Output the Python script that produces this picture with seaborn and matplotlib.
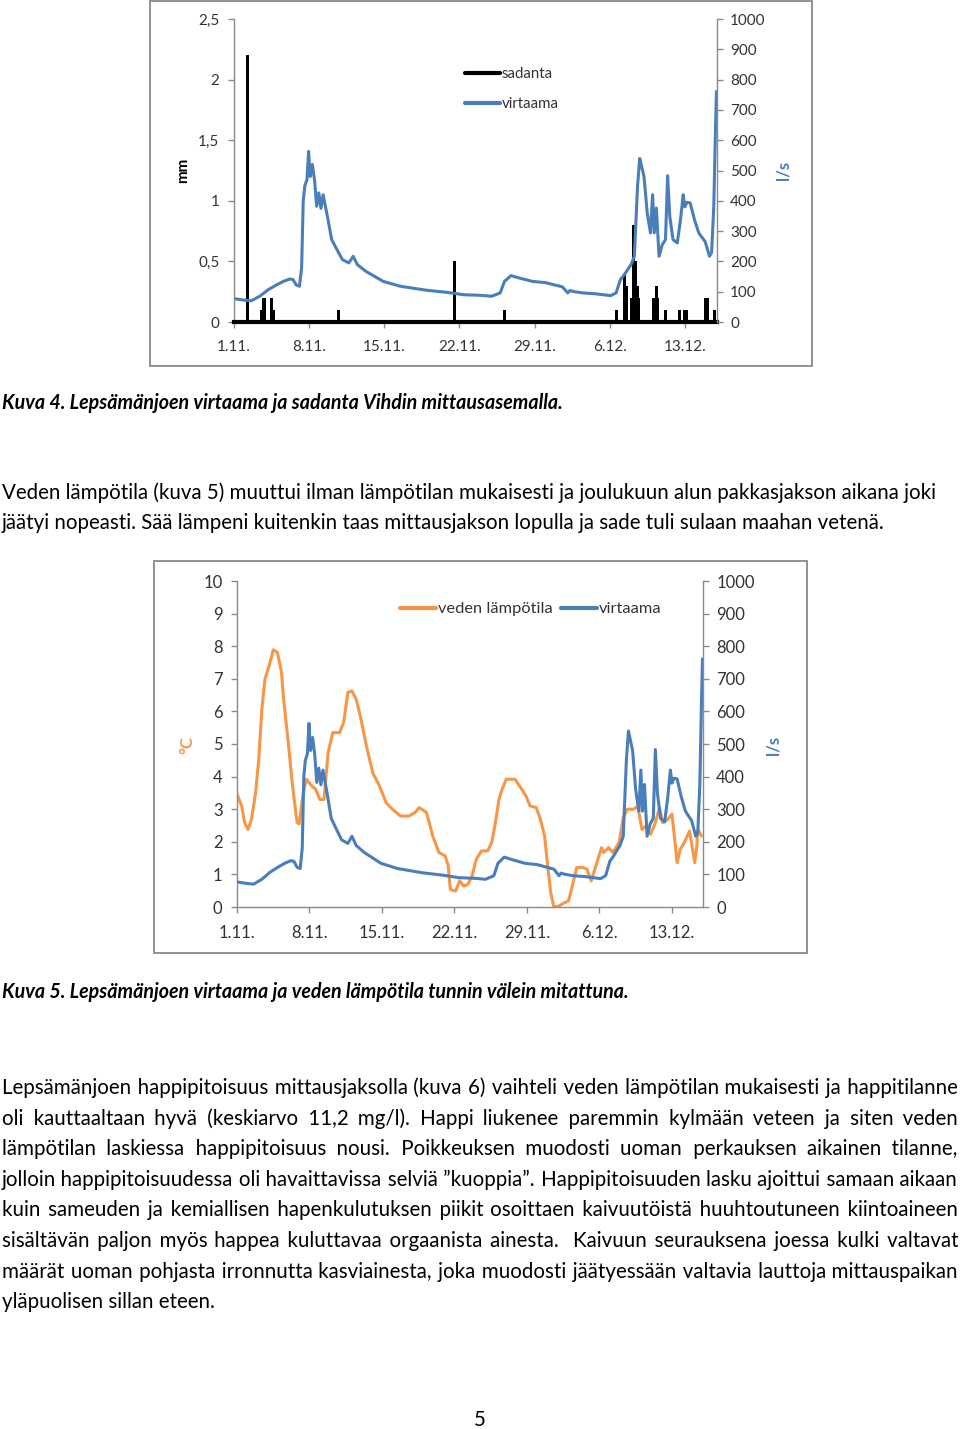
import matplotlib
matplotlib.use('Agg')
import matplotlib.pyplot as plt
import seaborn as sns
import numpy as np
from matplotlib.patches import Rectangle
from matplotlib.lines import Line2D

sns.set_theme(style='white')
plt.rcParams['font.family'] = ['Lato', 'DejaVu Sans']

# ---------------- data ----------------
date_labels = ["1.11.", "8.11.", "15.11.", "22.11.", "29.11.", "6.12.", "13.12."]

# virtaama (l/s), days since 1.11.
flow_day = [0, 1.0, 1.6, 2.4, 3.2, 4.0, 4.6, 5.2, 5.5, 5.8, 6.1, 6.3, 6.45, 6.6, 6.8, 6.95,
            7.1, 7.3, 7.5, 7.7, 7.9, 8.1, 8.3, 8.7, 9.1, 9.5, 10.1, 10.7, 11.1, 11.5, 12.3,
            13.9, 15.5, 17.9, 19.8, 21.4, 23.0, 24.0, 24.8, 25.2, 25.8, 26.6, 27.8, 29.0,
            29.8, 30.6, 31.1, 31.3, 31.7, 32.5, 33.7, 35.1, 35.6, 36.0, 36.4, 37.0, 37.3,
            37.6, 37.8, 38.0, 38.2, 38.5, 38.8, 39.0, 39.15, 39.35, 39.6, 39.9, 40.2, 40.4,
            40.6, 40.9, 41.3, 41.6, 41.85, 42.0, 42.2, 42.5, 42.9, 43.3, 43.9, 44.3, 44.5,
            44.7, 44.85, 44.95]
flow_ls = [77, 72, 70, 85, 107, 123, 134, 142, 140, 122, 118, 180, 400, 450, 470, 563,
           480, 520, 470, 382, 426, 375, 420, 349, 272, 245, 206, 195, 217, 189, 167,
           134, 118, 105, 98, 90, 88, 85, 96, 134, 153, 145, 134, 130,
           123, 116, 96, 104, 100, 96, 93, 87, 96, 140, 158, 190, 217,
           450, 540, 510, 480, 360, 294, 420, 294, 376, 217, 255, 272, 483,
           349, 272, 261, 338, 420, 380, 395, 393, 338, 294, 265, 217, 230,
           382, 624, 761]

# veden lämpötila (°C)
temp_day = [0, 0.45, 0.74, 1.06, 1.4, 1.8, 2.1, 2.4, 2.7, 3.1, 3.5, 3.9, 4.3, 4.5, 4.95,
            5.36, 5.8, 6.0, 6.4, 6.7, 7.2, 7.6, 8.0, 8.4, 8.6, 8.8, 9.25, 9.9, 10.3, 10.7,
            11.1, 11.5, 11.9, 12.5, 13.1, 13.75, 14.4, 15.0, 15.8, 16.6, 17.2, 17.6, 18.3,
            18.9, 19.5, 20.1, 20.4, 20.6, 21.1, 21.5, 21.9, 22.3, 22.7, 23.1, 23.6, 24.2,
            24.6, 24.9, 25.3, 25.6, 26.0, 26.85, 27.5, 27.9, 28.3, 28.9, 29.3, 29.7, 30.0,
            30.3, 30.6, 31.1, 31.6, 32.0, 32.3, 32.8, 33.4, 33.8, 34.2, 34.4, 34.8, 35.2,
            35.4, 35.9, 36.3, 36.9, 37.3, 37.7, 38.3, 38.7, 39.1, 39.5, 39.95, 40.4, 40.8,
            41.1, 41.6, 42.0, 42.3, 42.5, 42.8, 43.2, 43.7, 44.0, 44.2, 44.4, 44.5, 44.85]
temp_c = [3.46, 3.1, 2.59, 2.38, 2.69, 3.51, 4.53, 6.07, 6.99, 7.4, 7.89, 7.81, 7.2, 6.38, 5.05,
          3.72, 2.59, 2.55, 3.5, 3.92, 3.72, 3.61, 3.3, 3.3, 4.02, 4.74, 5.35, 5.35, 5.66, 6.58,
          6.63, 6.38, 5.87, 4.94, 4.12, 3.72, 3.2, 3.0, 2.79, 2.79, 2.9, 3.05, 2.9,
          2.18, 1.67, 1.57, 1.26, 0.54, 0.49, 0.8, 0.64, 0.7, 0.95, 1.46, 1.72, 1.72,
          1.98, 2.49, 3.3, 3.61, 3.92, 3.92, 3.61, 3.41, 3.1, 3.05, 2.69, 2.18, 1.26,
          0.44, 0.0, 0.03, 0.13, 0.18, 0.54, 1.21, 1.21, 1.16, 0.8, 1.0, 1.41, 1.82,
          1.67, 1.82, 1.67, 1.98, 2.74, 3.0, 3.0, 3.1, 2.38, 2.49, 2.23, 2.59, 3.05,
          2.59, 2.69, 2.85, 1.98, 1.36, 1.77, 1.98, 2.33, 1.77, 1.36, 1.87, 2.38, 2.18]

# sadanta (mm)
rain_day = [1.27, 2.58, 2.72, 2.86, 3.5, 3.65, 9.76, 20.55, 25.2, 35.6, 36.4, 36.55, 37.0,
            37.2, 37.4, 37.55, 37.7, 39.1, 39.35, 39.5, 40.2, 41.5, 42.0, 42.15, 43.95,
            44.1, 44.8]
rain_mm = [2.2, 0.1, 0.2, 0.2, 0.2, 0.1, 0.1, 0.5, 0.1, 0.1, 0.4, 0.3, 0.2,
           0.8, 0.5, 0.3, 0.2, 0.2, 0.3, 0.2, 0.1, 0.1, 0.1, 0.1, 0.2,
           0.2, 0.1]

mm_ticks = [0, 0.5, 1, 1.5, 2, 2.5]
c_ticks = list(range(0, 11))
ls_ticks = list(range(0, 1001, 100))

# ---------------- layout ----------------
W, H = 960, 1429
fig = plt.figure(figsize=(W / 100, H / 100), dpi=100)
fig.patch.set_facecolor('white')

def fx(px):
    return px / W

def fy(py):
    return 1 - py / H

BLUE = '#4a7ebb'
ORANGE = '#f79646'
GRID = '#8a8a8a'
TXT = '#333333'

def frame(x0, y0, x1, y1):
    fig.patches.append(Rectangle((fx(x0), fy(y1)), fx(x1) - fx(x0), fy(y0) - fy(y1),
                                 transform=fig.transFigure, fill=False,
                                 edgecolor=GRID, lw=1.3))

def fmt_comma(v):
    s = ('%g' % v)
    return s.replace('.', ',')

def style_axes(ax, axr, size, bottom_color, bottom_lw):
    for s in ['top', 'right']:
        ax.spines[s].set_visible(False)
    for s in ['top', 'left', 'bottom']:
        axr.spines[s].set_visible(False)
    ax.spines['left'].set_color(GRID)
    ax.spines['left'].set_linewidth(1)
    axr.spines['right'].set_color(GRID)
    axr.spines['right'].set_linewidth(1)
    ax.spines['bottom'].set_color(bottom_color)
    ax.spines['bottom'].set_linewidth(bottom_lw)
    ax.tick_params(axis='y', left=True, direction='out', length=4.5, width=1, color=GRID,
                   labelsize=size, labelcolor=TXT, pad=6)
    axr.tick_params(axis='y', right=True, direction='out', length=4.5, width=1, color=GRID,
                    labelsize=size, labelcolor=TXT, pad=5)
    ax.tick_params(axis='x', bottom=True, direction='out', length=4, width=1, color=GRID,
                   labelsize=size, labelcolor=TXT, pad=9)
    ax.set_xlim(0, 45)
    ax.set_xticks([7 * i for i in range(len(date_labels))])
    ax.set_xticklabels(date_labels)
    ax.set_facecolor('none')
    axr.set_facecolor('none')
    ax.grid(False)
    axr.grid(False)

# ---------------- chart 1 ----------------
frame(150, 1, 812, 366)
ax1 = fig.add_axes([fx(234), fy(322), fx(717) - fx(234), fy(19) - fy(322)])
ax1r = ax1.twinx()
ax1.bar(rain_day, rain_mm, width=0.28, color='black', linewidth=0, zorder=3)
sns.lineplot(x=flow_day, y=flow_ls, ax=ax1r, color=BLUE, lw=2.2)
ax1.set_ylim(0, 2.5)
ax1r.set_ylim(0, 1000)
ax1.set_yticks(mm_ticks)
ax1.set_yticklabels([fmt_comma(v) for v in mm_ticks])
ax1r.set_yticks(ls_ticks)
style_axes(ax1, ax1r, 11, 'black', 3)
ax1.set_xlabel('')
ax1r.set_ylabel('')
fig.text(fx(183), fy(170), 'mm', rotation=90, ha='center', va='center',
         fontsize=11, fontweight='bold', color='black')
fig.text(fx(783), fy(170), 'l/s', rotation=90, ha='center', va='center',
         fontsize=12, fontweight='bold', color=BLUE)
fig.legend(handles=[Line2D([], [], color='black', lw=3), Line2D([], [], color=BLUE, lw=3)],
           labels=['sadanta', 'virtaama'], loc='upper left',
           bbox_to_anchor=(fx(465), fy(67)), frameon=False, fontsize=10.8,
           handlelength=2.3, handletextpad=0.15, labelspacing=1.1,
           borderaxespad=0, borderpad=0, labelcolor=TXT)

# ---------------- chart 2 ----------------
frame(154, 561, 807, 953)
ax2 = fig.add_axes([fx(237), fy(907), fx(703) - fx(237), fy(581) - fy(907)])
ax2r = ax2.twinx()
sns.lineplot(x=temp_day, y=temp_c, ax=ax2, color=ORANGE, lw=2.2)
sns.lineplot(x=flow_day, y=flow_ls, ax=ax2r, color=BLUE, lw=2.2)
ax2.set_ylim(0, 10)
ax2r.set_ylim(0, 1000)
ax2.set_yticks(c_ticks)
ax2r.set_yticks(ls_ticks)
style_axes(ax2, ax2r, 12, GRID, 1)
ax2.set_xlabel('')
ax2r.set_ylabel('')
fig.text(fx(187), fy(745), '°C', rotation=90, ha='center', va='center',
         fontsize=12, fontweight='bold', color=ORANGE)
fig.text(fx(773), fy(745), 'l/s', rotation=90, ha='center', va='center',
         fontsize=12, fontweight='bold', color=BLUE)
fig.legend(handles=[Line2D([], [], color=ORANGE, lw=3), Line2D([], [], color=BLUE, lw=3)],
           labels=['veden lämpötila', 'virtaama'], loc='upper left', ncol=2,
           bbox_to_anchor=(fx(400), fy(602)), frameon=False, fontsize=11.8,
           handlelength=2.2, handletextpad=0.12, columnspacing=0.5,
           borderaxespad=0, borderpad=0, labelcolor=TXT)

# ---------------- text ----------------
renderer = fig.canvas.get_renderer()

def text_width(s, size, **kw):
    t = fig.text(0, 0, s, fontsize=size, **kw)
    w = t.get_window_extent(renderer).width
    t.remove()
    return w

ref_line = ("Veden lämpötila (kuva 5) muuttui ilman lämpötilan mukaisesti ja joulukuun "
            "alun pakkasjakson aikana joki")
body_fs = 13 * 932 / text_width(ref_line, 13)
cap_kw = dict(fontweight='bold', fontstyle='italic')
cap1 = "Kuva 4. Lepsämänjoen virtaama ja sadanta Vihdin mittausasemalla."
cap_fs = 12 * 561 / text_width(cap1, 12, **cap_kw)

def put(s, x, y, size, **kw):
    fig.text(fx(x), fy(y), s, fontsize=size, ha='left', va='baseline', color='black', **kw)

HAIR = '\u200a'
hair_w = (text_width('a' + HAIR * 40 + 'a', body_fs) - text_width('aa', body_fs)) / 40

def justified(line, y, x0, x1, size):
    # one text object per line; word gaps are widened with hair spaces
    n_gaps = line.count(' ')
    extra = (x1 - x0) - text_width(line, size)
    k = extra / n_gaps / hair_w if hair_w > 0 else 0
    parts = line.split(' ')
    out = parts[0]
    for i, p in enumerate(parts[1:]):
        cnt = int(round(k * (i + 1)) - round(k * i))
        out += ' ' + HAIR * max(cnt, 0) + p
    put(out, x0, y, size)

put(cap1, 2, 409, cap_fs, **cap_kw)
put(ref_line, 2, 499, body_fs)
put("jäätyi nopeasti. Sää lämpeni kuitenkin taas mittausjakson lopulla ja sade tuli "
    "sulaan maahan vetenä.", 2, 529, body_fs)

put("Kuva 5. Lepsämänjoen virtaama ja veden lämpötila tunnin välein mitattuna.",
    2, 998, cap_fs, **cap_kw)

para = [
    "Lepsämänjoen happipitoisuus mittausjaksolla (kuva 6) vaihteli veden lämpötilan mukaisesti ja happitilanne",
    "oli kauttaaltaan hyvä (keskiarvo 11,2 mg/l). Happi liukenee paremmin kylmään veteen ja siten veden",
    "lämpötilan laskiessa happipitoisuus nousi. Poikkeuksen muodosti uoman perkauksen aikainen tilanne,",
    "jolloin happipitoisuudessa oli havaittavissa selviä ”kuoppia”. Happipitoisuuden lasku ajoittui samaan aikaan",
    "kuin sameuden ja kemiallisen hapenkulutuksen piikit osoittaen kaivuutöistä huuhtoutuneen kiintoaineen",
    "sisältävän paljon myös happea kuluttavaa orgaanista ainesta.  Kaivuun seurauksena joessa kulki valtavat",
    "määrät uoman pohjasta irronnutta kasviainesta, joka muodosti jäätyessään valtavia lauttoja mittauspaikan",
]
y0 = 1094
for i, line in enumerate(para):
    justified(line, y0 + i * 30.6, 2, 958, body_fs)
put("yläpuolisen sillan eteen.", 2, y0 + 7 * 30.6, body_fs)

fig.text(fx(480), fy(1426), '5', fontsize=body_fs, ha='center', va='baseline', color='black')

fig.savefig('out.png', dpi=100)
